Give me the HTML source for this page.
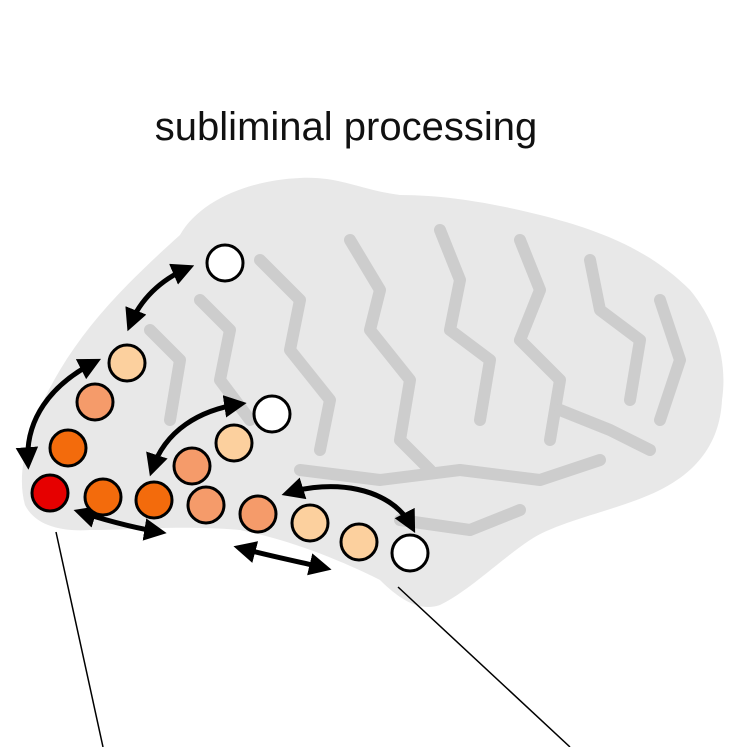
<!DOCTYPE html>
<html><head><style>
body{margin:0;background:#fff;width:747px;height:747px;overflow:hidden}
</style></head><body>
<svg width="747" height="747" viewBox="0 0 747 747" xmlns="http://www.w3.org/2000/svg">
<defs>
<marker id="ah" viewBox="0 0 10 10" refX="7" refY="5" markerWidth="4.5" markerHeight="4.5" orient="auto-start-reverse">
<path d="M0,0 L10,5 L0,10 z" fill="#000"/></marker>
</defs>
<text x="346" y="140" text-anchor="middle" font-family="Liberation Sans, sans-serif" font-size="40" fill="#111">subliminal processing</text>
<!-- brain -->
<path d="M180,235 C200,200 250,180 300,178 C340,176 360,190 400,195 C450,195 500,205 540,215 C600,230 650,250 690,290 C715,320 728,360 722,400 C720,440 700,470 660,490 C620,510 560,520 530,540 C500,560 470,590 440,605 C420,612 400,600 380,580 C340,560 290,540 240,530 C180,525 130,530 90,530 C60,532 35,525 25,505 C15,470 30,420 60,370 C90,320 130,280 180,235 Z" fill="#e8e8e8"/>
<g fill="none" stroke="#cdcdcd" stroke-width="12" stroke-linecap="round" stroke-linejoin="round">
<path d="M260,260 L300,300 L290,350 L330,400 L320,450"/>
<path d="M350,240 L380,290 L370,330 L410,380 L400,440 L430,470"/>
<path d="M440,230 L460,280 L450,330 L490,360 L480,420"/>
<path d="M520,240 L540,290 L520,340 L560,380 L550,440"/>
<path d="M590,260 L600,310 L640,340 L630,400"/>
<path d="M200,300 L230,330 L220,380 L250,420"/>
<path d="M660,300 L680,360 L660,420"/>
<path d="M300,470 L380,480 L460,470 L540,480 L600,460"/>
<path d="M150,330 L180,360 L170,420"/>
<path d="M400,520 L470,530 L520,510"/>
<path d="M560,410 L610,430 L650,450"/>
</g>
<!-- arrows -->
<g fill="none" stroke="#000" stroke-width="5" marker-start="url(#ah)" marker-end="url(#ah)">
<path d="M188,268 C160,280 140,300 130,325"/>
<path d="M95,362 C50,385 25,420 28,463"/>
<path d="M240,404 C200,410 165,430 152,470"/>
<path d="M80,512 C105,520 135,528 160,532"/>
<path d="M288,493 C330,480 390,485 412,527"/>
<path d="M240,548 C270,556 300,562 325,568"/>
</g>
<!-- circles -->
<g stroke="#000" stroke-width="3">
<circle cx="225" cy="263" r="18" fill="#fff"/>
<circle cx="127" cy="363" r="18" fill="#fcd09e"/>
<circle cx="95" cy="402" r="18" fill="#f59b6a"/>
<circle cx="68" cy="448" r="18" fill="#f36b0c"/>
<circle cx="50" cy="493" r="18" fill="#e60000"/>
<circle cx="103" cy="497" r="18" fill="#f36b0c"/>
<circle cx="154" cy="500" r="18" fill="#f36b0c"/>
<circle cx="206" cy="505" r="18" fill="#f59b6a"/>
<circle cx="258" cy="514" r="18" fill="#f59b6a"/>
<circle cx="310" cy="523" r="18" fill="#fcd09e"/>
<circle cx="359" cy="542" r="18" fill="#fcd09e"/>
<circle cx="410" cy="553" r="18" fill="#fff"/>
<circle cx="192" cy="466" r="18" fill="#f59b6a"/>
<circle cx="234" cy="443" r="18" fill="#fcd09e"/>
<circle cx="272" cy="414" r="18" fill="#fff"/>
</g>
<g stroke="#000" stroke-width="1.5">
<line x1="56" y1="532" x2="103" y2="747"/>
<line x1="398" y1="587" x2="570" y2="747"/>
</g>
</svg>
</body></html>
